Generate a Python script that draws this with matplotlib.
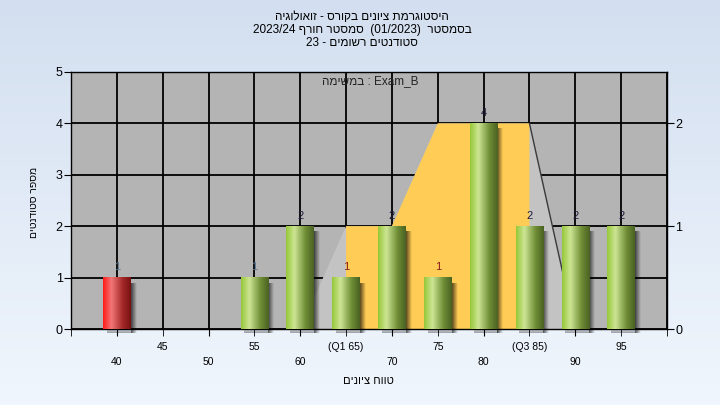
import re
import matplotlib.pyplot as plt
import numpy as np
from matplotlib.colors import to_rgb, LinearSegmentedColormap
from matplotlib.patches import Polygon

plt.rcParams['font.family'] = ['Liberation Sans', 'DejaVu Sans']

# histogram data
grades = [40, 45, 50, 55, 60, 65, 70, 75, 80, 85, 90, 95]
counts = [1, 0, 0, 1, 2, 1, 2, 1, 4, 2, 2, 2]
tick_labels = ['40', '45', '50', '55', '60', '(Q1 65)', '70', '75', '80', '(Q3 85)', '90', '95']
pass_grade = 55

# quartile box and whisker areas
box_grades = [65, 65, 70, 75, 85, 85]
box_counts = [0, 2, 2, 4, 4, 0]
whisker_grades = [60, 65, 70, 75, 85, 90]
whisker_counts = [0, 2, 2, 4, 4, 0]

title_lines = ['היסטוגרמת ציונים בקורס - זואולוגיה',
               'בסמסטר  (01/2023)  סמסטר חורף 2023/24',
               'סטודנטים רשומים - 23']
task_text = 'Exam_B : במשימה'
y_title = 'מספר סטודנטים'
x_title = 'טווח ציונים'

right_ticks = [0, 1, 2]


def rtl(s):
    # matplotlib has no bidi support: build the visual order by hand
    runs = re.findall(r'[A-Za-z0-9_/.]+|[^A-Za-z0-9_/.]+', s)
    out = []
    for r in reversed(runs):
        if re.match(r'[A-Za-z0-9_]', r):
            out.append(r)
        else:
            out.append(r[::-1].translate(str.maketrans('()', ')(')))
    return ''.join(out)


def gradient(stops, n=64):
    t = np.linspace(0, 1, n)
    pos = [s[0] for s in stops]
    cols = np.array([to_rgb(s[1]) for s in stops])
    rgb = np.stack([np.interp(t, pos, cols[:, k]) for k in range(3)], axis=-1)
    return rgb[np.newaxis, :, :]


green = gradient([(0, '#96c83a'), (0.3, '#cde594'), (0.7, '#6f8e36'), (1, '#4a6222')])
red = gradient([(0, '#ff1a1a'), (0.3, '#f27676'), (0.7, '#a42a2a'), (1, '#781010')])
shadow = np.zeros((1, 32, 4))
shadow[0, :, 3] = np.linspace(0.65, 0.0, 32)
shadow_low = np.zeros((32, 1, 4))
shadow_low[:, 0, 3] = np.linspace(0.0, 0.35, 32)

fig = plt.figure(figsize=(7.2, 4.05), dpi=100)

# figure background gradient
bg = fig.add_axes([0, 0, 1, 1], zorder=-10)
bg.imshow(np.linspace(0, 1, 100)[:, None],
          cmap=LinearSegmentedColormap.from_list('bg', ['#d3dff0', '#f0f6fd']),
          aspect='auto', extent=(0, 1, 0, 1))
bg.set_axis_off()

ax = fig.add_axes([71 / 720, 76 / 405, 596 / 720, 257 / 405])
ax.set_facecolor('#b4b4b4')
ax.set_axisbelow(True)

idx = np.arange(len(grades))


def gx(values):
    return np.interp(values, grades, idx)


# whisker area (light) and box area (yellow)
wx = gx(whisker_grades)
ax.add_patch(Polygon(np.column_stack([wx, whisker_counts]), closed=True,
                     facecolor='#c3c3c3', edgecolor='none', zorder=1))
ax.plot(wx[-2:], whisker_counts[-2:], color='#3a3a3a', lw=1, zorder=1.5)
bx = gx(box_grades)
ax.add_patch(Polygon(np.column_stack([bx, box_counts]), closed=True,
                     facecolor='#ffcc55', edgecolor='none', zorder=1.2))

width = 0.6
for i, (g, c) in enumerate(zip(grades, counts)):
    if c == 0:
        continue
    x0, x1 = i - width / 2, i + width / 2
    sh = ax.imshow(shadow, extent=(x1, x1 + 0.13, -0.07, c - 0.1), aspect='auto',
                   zorder=2.5, interpolation='bilinear')
    sh.set_clip_on(False)
    sh2 = ax.imshow(shadow_low, extent=(x0 + 0.08, x1, -0.08, 0), aspect='auto',
                    zorder=2.5, interpolation='bilinear')
    sh2.set_clip_on(False)
    ax.imshow(red if g < pass_grade else green, extent=(x0, x1, 0, c), aspect='auto',
              zorder=3, interpolation='bilinear')
    if g <= pass_grade:
        col = '#5c7a92'
    elif c == 1:
        col = '#8a1c1c'
    else:
        col = '#1c1c3c'
    ax.text(i, c + 0.1, str(c), ha='center', va='bottom', fontsize=8, color=col, zorder=4)

ax.set_xlim(-1, len(grades))
ax.set_ylim(0, 5)
ax.set_yticks(range(6))

major = idx[::2]
minor = [-1] + list(idx[1::2]) + [len(grades)]
ax.set_xticks(major)
ax.set_xticklabels(tick_labels[::2])
ax.set_xticks(minor, minor=True)
ax.set_xticklabels([''] + tick_labels[1::2] + [''], minor=True)
ax.tick_params(axis='x', which='major', length=5, pad=15, labelsize=7.5, color='black')
ax.tick_params(axis='x', which='minor', length=5, pad=4, labelsize=7.5, color='black')
ax.tick_params(axis='y', length=5, pad=1, labelsize=9)
ax.grid(True, which='both', color='black', lw=1.3)
for s in ax.spines.values():
    s.set_color('black')
    s.set_linewidth(1)

ax2 = ax.twinx()
ax2.set_ylim(0, 2.5)
ax2.set_yticks(right_ticks)
ax2.tick_params(axis='y', length=5, pad=1, labelsize=9)
for s in ax2.spines.values():
    s.set_visible(False)

ax.text((370 - 71) / 596, (333 - 85) / 257, rtl(task_text), transform=ax.transAxes,
        ha='center', va='center', fontsize=8.5, color='#222222')

for k, line in enumerate(title_lines):
    fig.text(362 / 720, 1 - (17 + 13 * k) / 405, rtl(line), ha='center', va='center',
             fontsize=8.5)

fig.text(34 / 720, 1 - 202 / 405, rtl(y_title), rotation=90, ha='center', va='center',
         fontsize=7.5)
fig.text(368 / 720, 1 - 381 / 405, rtl(x_title), ha='center', va='center', fontsize=8)

fig.savefig('out.png', dpi=100)
